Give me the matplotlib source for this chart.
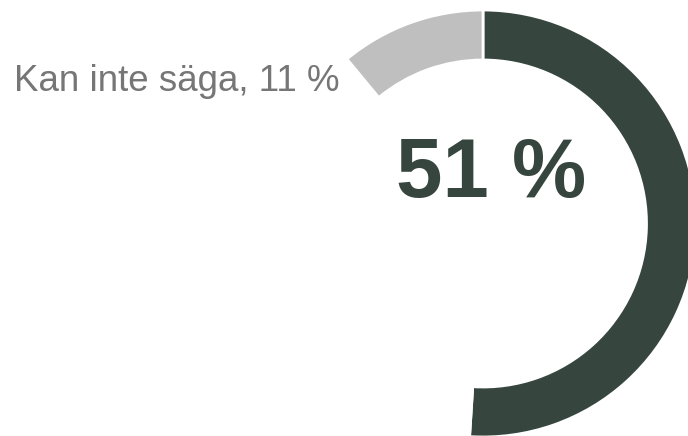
import matplotlib
matplotlib.use("Agg")
import matplotlib.pyplot as plt

# andelar i procent (den vita delen syns inte i originalet)
labels = ["Ja", "", "Kan inte säga"]
values = [51, 38, 11]
colors = ["#36463f", "white", "#bfbfbf"]
big_text = "51 %"
side_label = "Kan inte säga, 11 %"

plt.rcParams['font.family'] = ['Liberation Sans', 'DejaVu Sans']

fig = plt.figure(figsize=(6.88, 4.36), dpi=100)
ax = fig.add_axes([0, 0, 1, 1])

ax.pie(values, colors=colors, startangle=90, counterclock=False,
       center=(483, 212.5), radius=213.5, frame=True,
       wedgeprops=dict(width=50, edgecolor='white', linewidth=2))
ax.set_xlim(0, 688)
ax.set_ylim(0, 436)
ax.set_aspect('equal')
ax.axis('off')

ax.text(491, 261, big_text, fontsize=60, fontweight='bold', color="#36463f",
        ha='center', va='center')
ax.text(340, 355, side_label, fontsize=26.5, color="#767676",
        ha='right', va='center')

fig.savefig("out.png", dpi=100)
